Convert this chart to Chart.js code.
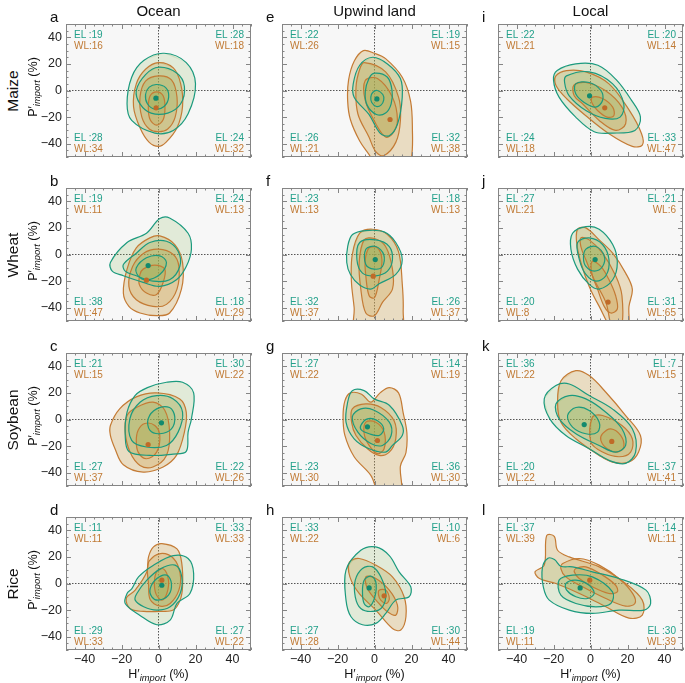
<!DOCTYPE html>
<html>
<head>
<meta charset="utf-8">
<script src="https://cdn.jsdelivr.net/npm/chart.js@4.4.1/dist/chart.umd.min.js"></script>
<style>
  body { margin: 0; background: #fff; width: 685px; height: 683px; position: relative; overflow: hidden;
         font-family: "Liberation Sans", Arial, Helvetica, sans-serif; }
  canvas { position: absolute; }
  .txt { position: absolute; white-space: nowrap; color: #111; }
  .corner { position: absolute; white-space: nowrap; font-size: 10px; line-height: 11px; }
  .el { color: #22a08a; }
  .wl { color: #c07a34; }
  sub { font-size: 0.75em; font-style: italic; vertical-align: -0.25em; }
</style>
</head>
<body>
<script>
// axis ticks (every 5, labels on multiples of 20)
const tickPositions = [-50, -45, -40, -35, -30, -25, -20, -15, -10, -5, 0, 5, 10, 15, 20, 25, 30, 35, 40, 45, 50];

const colTitles = ['Ocean', 'Upwind land', 'Local'];
const rowTitles = ['Maize', 'Wheat', 'Soybean', 'Rice'];
const panelLetters = ['a', 'b', 'c', 'd', 'e', 'f', 'g', 'h', 'i', 'j', 'k', 'l'];

// corner counts, panel order a..l, corners TL, TR, BL, BR
const cornerEL = [
  [19, 28, 28, 24], [19, 24, 38, 18], [21, 30, 27, 22], [11, 33, 29, 27],
  [22, 19, 26, 32], [23, 18, 32, 26], [27, 14, 23, 36], [33, 10, 27, 30],
  [22, 20, 24, 33], [27, 21, 20, 31], [36, 7, 20, 37], [37, 14, 19, 30]
];
const cornerWL = [
  [16, 18, 34, 32], [11, 13, 47, 29], [15, 22, 37, 26], [11, 33, 33, 22],
  [26, 15, 21, 38], [13, 13, 37, 37], [22, 19, 30, 30], [22, 6, 28, 44],
  [21, 14, 18, 47], [21, 6, 8, 65], [22, 15, 22, 41], [39, 11, 11, 39]
];

// density modes (H', P') per panel a..l
const elCenters = [[-1.4, -5.8], [-5.6, -8.3], [1.6, -2.5], [1.8, -1.3], [1.3, -6.3], [0.4, -3.8],
                   [-3.8, -5.5], [-2.9, -3.3], [-0.5, -4], [2.5, -3.8], [-3.4, -3.8], [-5.6, -3.3]];
const wlCenters = [[-1.3, -13], [-6.5, -19.3], [-5.6, -18.8], [1.8, 2.5], [8.4, -21.8], [-0.7, -16.3],
                   [1.6, -15.8], [5.2, -9.3], [7.7, -13], [9.5, -35.8], [11.5, -16.5], [-0.4, 2.5]];

// contour lines, outer / middle / inner, as (H', P') points
// a: maize, ocean
const aEL = [
  [[3, 28], [15, 21], [20, 5], [16, -17.5], [8, -30], [-2, -32], [-14.5, -22.5], [-17, -10], [-14.5, 10], [-8, 22.5]],
  [[0, 17.5], [10, 13], [14, 3], [12, -10], [5, -17], [-4, -17], [-10, -10], [-12, 0], [-7, 12]],
  [[-1, 4.5], [4, 2], [5.5, -5], [3, -12], [-2, -14], [-6, -10], [-7, -3], [-5, 2.5]]
];
const aWL = [
  [[0, 21], [8, 17], [12, 5], [13, -12], [10, -28], [4, -39], [0, -42], [-5, -39], [-10, -28], [-13.5, -12], [-12, 5], [-7, 16]],
  [[0, 11], [7, 8], [10, -5], [9, -20], [5, -29], [0, -31], [-5, -29], [-9, -20], [-10, -5], [-7, 7]],
  [[-1, -1], [2.5, -4], [3.5, -13], [2.5, -22], [-1, -26], [-4.5, -22], [-5.5, -13], [-4.5, -4]]
];
// b: wheat, ocean
const bEL = [
  [[-26, -6], [-17, 9], [-6.5, 16], [0.7, 27], [6, 27.5], [16, 16], [17.8, 4], [15, -9], [9.7, -19], [0.7, -24], [-8.3, -21], [-19, -16], [-25, -12.5]],
  [[-19, -7.5], [-12, 1], [-4.7, 9], [4.3, 10], [10.6, 2.5], [11.5, -9], [6, -19], [-3, -20], [-12, -16], [-18, -12.5]],
  [[-12, -10], [-6.5, -2.5], [0.7, -1], [4.3, -6], [0.7, -15], [-6.5, -19], [-11, -16]]
];
const bWL = [
  [[-4.7, 12.5], [0.7, 14], [8.8, 7.5], [13, -6], [12.4, -26], [6, -44], [-1, -46], [-10, -44], [-16, -39], [-19, -29], [-17, -11], [-12, 5]],
  [[-8, 1], [0, 4], [8, 0], [11, -9], [10, -26], [4.3, -37.5], [-3, -39], [-12, -34], [-16, -24], [-14, -9]],
  [[-8.3, -11], [-2, -8], [3.4, -11], [2.5, -21], [-1, -30], [-6.5, -29], [-10.4, -22.5], [-10, -15]]
];
// c: soybean, ocean
const cEL = [
  [[-12.7, 18], [-6, 24], [4.3, 28], [13, 28], [19, 20], [17.8, 0.5], [16, -9.5], [15, -24], [8, -26], [-4.7, -27], [-16, -24], [-18, -12], [-17, 5.5]],
  [[-10, 13], [-1, 18], [8, 15.5], [13, 5.5], [10.6, -9.5], [4.3, -19.5], [-6.5, -20.7], [-14.5, -15.7], [-15.5, 0.5]],
  [[-5.6, 0.5], [-1, 8], [6, 9], [8.8, 2], [7, -7], [0.7, -10.7], [-4.7, -8]]
];
const cWL = [
  [[-26, -4.5], [-21, 8], [-12, 17], [-1, 20], [11.5, 15.5], [15, 5.5], [14, -9.5], [9.7, -27], [2.5, -35.7], [-8.3, -39.5], [-19, -34], [-23.5, -22], [-26, -12]],
  [[-17, 3], [-12, 9], [-3, 13], [3.4, 7], [6, -9.5], [4.3, -27], [-3, -35.7], [-10, -34.5], [-15.4, -24.5], [-18, -9.5]],
  [[-11, -8], [-7.4, -3], [-2, -4.5], [0.7, -12], [-1, -24.5], [-6.5, -29.5], [-11, -24.5], [-12, -16]]
];
// d: rice, ocean
const dEL = [
  [[-14.4, -3.8], [-10.8, 5], [-2.7, 13.8], [8, 21], [16, 18.8], [19, 7.5], [17, -7.5], [10, -15], [6.3, -27.5], [-0.9, -31], [-10, -24], [-18, -15], [-17, -7.5]],
  [[-11.7, -7.5], [-6.3, 2.5], [1, 11], [9, 13.8], [12.6, 5], [11.7, -7.5], [6.3, -17.5], [-0.9, -20], [-8, -17.5], [-12.6, -12.5]],
  [[-4.5, -3.8], [-0.9, 3.8], [4.5, 6.3], [7, 0], [5.4, -8.8], [0, -12.5], [-3.6, -10]]
];
const dWL = [
  [[1.8, 30], [10, 26], [12.6, 15], [13, -2.5], [11.7, -12.5], [8, -20], [0.9, -21], [-8, -21], [-15.3, -19], [-17.4, -11], [-12.6, -5], [-6.3, 8.8], [-5.4, 20], [-2.7, 27.5]],
  [[-5, 17], [1, 22.5], [8, 19], [11.7, 7.5], [11, -5], [6.3, -15], [0.9, -17], [-4.5, -12], [-5.4, 0], [-6, 10]],
  [[-0.9, 9], [2.7, 11], [5.4, 2.5], [4.5, -7.5], [1.8, -12.5], [-1.3, -8], [-2.2, 1]]
];
// e: maize, upwind land
const eEL = [
  [[-1, 25], [7, 20], [14, 9], [15, -5], [12.5, -25], [8, -34], [3, -32], [-3, -18], [-11, -5], [-11.5, 5], [-8, 19]],
  [[0, 13], [7, 10], [9.5, 0], [9, -10], [6, -17], [1, -18], [-4, -11], [-5, -1], [-3, 9]],
  [[1.5, 0], [4.5, -3], [5, -7], [3.5, -11], [1, -12], [-1.5, -9], [-2, -5], [-1, -1.5]]
];
const eWL = [
  [[-6, 30], [0, 28], [6, 24], [15, 10], [19.5, -8], [20.5, -30], [20, -50], [17, -58], [2, -58], [-3, -48], [-8, -38], [-13, -22], [-14.5, -8], [-14, 8], [-11, 22]],
  [[-5.6, 21], [6, 14], [13, -5], [14, -22.5], [11.5, -39], [5, -49], [0.7, -46], [-3, -35], [-9, -17.5], [-10, 2.5], [-8, 16]],
  [[-5, 7.5], [1.6, 9], [9.7, -5], [12.4, -22.5], [9.7, -32.5], [6, -35], [0.7, -25], [-5, -7.5]]
];
// f: wheat, upwind land
const fEL = [
  [[-11.9, 15], [-4.7, 18], [5.2, 17], [11.5, 9], [15, -4], [11.5, -15], [2.5, -22], [-2, -26], [-8, -23], [-13, -15], [-15, -6], [-14.5, 6]],
  [[-8, 9], [0.7, 11], [8, 6], [9.7, -4], [7, -12.5], [0.7, -16], [-6.5, -14], [-9.5, -4]],
  [[-4.7, 4], [0.7, 6], [5, 0], [4.3, -9], [-0.2, -11], [-4.7, -7.5]]
];
const fWL = [
  [[-8, 16], [-1, 19], [7, 15], [13, 2], [15, -22], [15.5, -42], [14, -58], [-10, -58], [-11, -40], [-12.5, -20], [-12, 0]],
  [[-5.6, 11], [0, 12], [6, 6], [9.7, -11], [9.7, -26], [4.3, -36], [0, -46], [-4.7, -44], [-7.4, -26], [-8.3, -6]],
  [[-2.9, 5], [1.6, 5], [4, -4], [2.5, -19], [0, -32.5], [-2.9, -31], [-4.7, -16], [-5, -4]]
];
// g: soybean, upwind land
const gEL = [
  [[-14.5, 13], [-12, 21.7], [-5.6, 21.7], [-0.2, 15.5], [8, 10.7], [15, -4.5], [15, -12], [9.7, -19.5], [6, -24.5], [-2.9, -22], [-11, -14.5], [-15.4, -2]],
  [[-12, 2], [-7.4, 8], [-0.2, 7], [8, -2], [9, -12], [4.3, -19.5], [-2, -18], [-9, -9.5]],
  [[-7.4, -4.5], [-3.8, 0.5], [1.6, -1], [5, -7], [2.5, -12], [-2.9, -10.7], [-7, -8]]
];
const gWL = [
  [[-16, 14], [-13, 20], [-7, 19], [-2, 13], [3, 20], [8, 24], [13, 20], [15.5, 5], [17.5, -10], [17, -25], [14, -35], [14, -56], [3, -56], [-2, -42], [-11, -28], [-16, -12], [-17, 2]],
  [[-12, 8], [-4.7, 11.7], [3.4, 9], [10.6, -1], [11.5, -14.5], [8, -24.5], [2.5, -27], [-3.8, -22], [-10, -12], [-12.4, -2]],
  [[-4.7, -2], [0.7, -2], [5.2, -9.5], [5.2, -22], [1.6, -25.7], [-2.9, -19.5], [-5.6, -10.7]]
];
// h: rice, upwind land
const hEL = [
  [[-15.4, 10], [-7.4, 25], [0.7, 27.5], [8, 21], [13.3, 8.8], [19.6, -2.5], [18.7, -10], [11.5, -12.5], [6.1, -22.5], [0.7, -30], [-6.5, -31], [-12.7, -25], [-15.4, -12.5]],
  [[-10.4, 2.5], [-6.5, 11.3], [-1, 12.5], [3.4, 5], [6.1, -7.5], [4.3, -17.5], [-1, -21], [-7.4, -18.8], [-10.4, -10]],
  [[-5.6, 2.5], [-2, 5.5], [0.7, 1.3], [0.2, -10], [-2.9, -17.5], [-5.6, -15], [-6.5, -6.3]]
];
const hWL = [
  [[-13.6, 16], [-8.3, 18.8], [0.7, 13.8], [9.7, 5], [16, -10], [17, -25], [14.2, -35], [9.7, -33.8], [0.7, -20], [-8.3, -7.5], [-13.3, 5]],
  [[-4.7, 5], [0.7, 3.8], [8, -5], [12.4, -16.3], [11.5, -23.8], [7, -21.3], [1.6, -13.8], [-3.8, -3.8]],
  [[2.5, -5], [6.1, -5], [8, -11.3], [6.5, -15], [3.4, -12.5], [2.2, -8.8]]
];
// i: maize, local
const iEL = [
  [[-18, 15], [-8, 20], [4, 19], [14, 8], [22, -7], [27, -20], [24, -30], [12, -32], [2, -31], [-8, -20], [-17, -5], [-20, 8]],
  [[-13, 11], [-0.7, 14], [12, 5], [18, -10], [16, -20], [8, -21], [-2.5, -15], [-11.5, -4], [-14, 6]],
  [[-8, 5], [-0.7, 6], [5.6, 0], [6.5, -7.5], [2.9, -12.5], [-3.4, -9], [-8, -2.5]]
];
const iWL = [
  [[-18.7, 11], [-13, 15], [-2.5, 14], [10, 5], [21, -15], [27.6, -32.5], [28, -41], [22.6, -42], [10, -32.5], [-2.5, -19], [-13, -6], [-18.7, 4]],
  [[-9, 4], [-2.5, 6], [8, 0], [17, -12.5], [19, -25], [13.6, -30], [4.7, -22.5], [-4.3, -10], [-8.8, -4]],
  [[1, -5], [6.5, -6], [12, -12.5], [12.6, -19], [9, -20], [3.8, -15], [0.7, -9]]
];
// j: wheat, local
const jEL = [
  [[-9.7, 16], [-2.5, 21], [4.7, 19], [12, 7.5], [14.5, -6], [12, -19], [4.7, -26], [-0.7, -22.5], [-7, -11], [-10.6, 4]],
  [[-7, 9], [-0.7, 12.5], [6.5, 7.5], [10, -4], [8.3, -16], [2.9, -20], [-2.5, -15], [-6, -4]],
  [[-2.5, 4], [2.9, 6], [7.4, -1], [6.5, -9], [2, -12.5], [-2.5, -9], [-3.8, -2.5]]
];
const jWL = [
  [[-7, 19], [-2.5, 20], [4.7, 11], [12, 1], [19, -14], [22.6, -26], [20.8, -39], [20, -56], [12, -56], [4.7, -39], [-0.7, -24], [-5.2, -6], [-7.5, 9]],
  [[-5.2, 12.5], [-0.7, 11], [6.5, 1], [13.6, -16], [17, -31], [16.5, -56], [12, -56], [8.3, -36], [2, -19], [-2.5, -4], [-5.2, 6]],
  [[1, -5], [5.6, -9], [10, -19], [13.6, -31], [14.5, -41], [11, -44], [7.4, -39], [3.8, -26], [0.7, -14]]
];
// k: soybean, local
const kEL = [
  [[-25, 15.5], [-18.7, 25.5], [-11.5, 26.7], [-0.7, 18], [11.8, 8], [22.6, -7], [24.4, -24.5], [19, -33], [10, -30.7], [-0.7, -22], [-13.3, -12], [-22, 0.5]],
  [[-18.7, 11.7], [-11.5, 18], [-2.5, 15.5], [8.3, 5.5], [17, -7], [19, -19.5], [13.6, -24.5], [4.7, -19.5], [-7.9, -10.7], [-16.9, 0.5]],
  [[-12.4, 3], [-7.9, 9], [-0.7, 6.7], [4.7, -2], [3.8, -9.5], [-2.5, -10.7], [-9.7, -5.7]]
];
const kWL = [
  [[-16, 29], [-7.9, 36.7], [-0.7, 33], [8.3, 20.5], [19, 3], [27, -12], [26, -24.5], [20.8, -32], [11.8, -32], [4.7, -27], [-7.9, -14.5], [-16, -2], [-17.8, 13]],
  [[1, 1.7], [6.5, 3], [17, -4.5], [22.6, -14.5], [21.7, -24.5], [15.4, -28], [6.5, -24.5], [0.2, -17]],
  [[6.5, -10.7], [11, -7], [16.3, -12], [18, -20.7], [14.5, -24.5], [9, -22], [5.6, -15.7]]
];
// l: rice, local
const lEL = [
  [[-26, 12], [-23, 19], [-19.5, 18], [-16, 13], [-9.7, 12.5], [1, 8.8], [15.4, 3.8], [30, -5], [32.5, -15], [29, -20], [15.4, -20], [1, -22.5], [-11.5, -20], [-22.3, -12.5], [-25.5, -2.5]],
  [[-17, 2.5], [-9.7, 6.3], [1, 5], [11.9, -6.3], [11, -15], [2.9, -17.5], [-7.9, -15], [-16, -8.8]],
  [[-13.3, 0], [-7.9, 2.5], [-0.7, -1.3], [2, -7.5], [-1.6, -11.3], [-7.9, -10], [-12.9, -5]]
];
const lWL = [
  [[-30, 8.8], [-25, 13.8], [-23.7, 36], [-19.6, 35.5], [-17.8, 25], [-11.5, 20], [4.7, 12.5], [19, 0], [28, -12.5], [28, -23.8], [20.8, -26], [8.3, -17.5], [-6, -7.5], [-18.7, 0], [-27.6, 3.8]],
  [[-15, 15], [-6, 18.8], [4.7, 13.8], [16, 3], [23, -8], [24, -15], [19, -17], [8.3, -11.3], [-4.3, -2.5], [-13.3, 5], [-16, 11]],
  [[-7.9, 11.3], [-2.5, 12.5], [6.5, 6.3], [13.6, -1.3], [14.5, -6.3], [10, -7.5], [1, -2.5], [-6.1, 3.8], [-8.8, 8.8]]
];

const elSets = [aEL, bEL, cEL, dEL, eEL, fEL, gEL, hEL, iEL, jEL, kEL, lEL];
const wlSets = [aWL, bWL, cWL, dWL, eWL, fWL, gWL, hWL, iWL, jWL, kWL, lWL];

const EL_LINE = '#1b9a7e';
const WL_LINE = '#c47b35';
const EL_FILL = 'rgba(130,175,75,0.18)';
const WL_FILL = 'rgba(205,165,85,0.32)';

const panelTops = [24, 188, 353, 517];
const PW = 185, PH = 133;

function panelLeft(col) { return 66 + 216 * col; }

function fmt(v) {
  return v < 0 ? '\u2212' + Math.abs(v) : String(v);
}

// closed smooth contour: wrap the ends so the spline joins without a corner
function contour(pts, line, fill) {
  const d = pts.map(p => ({ x: p[0], y: p[1] }));
  const data = [d[d.length - 1], ...d, d[0], d[1]];
  const last = data.length - 1;
  return {
    type: 'line',
    data: data,
    borderColor: line,
    backgroundColor: fill,
    fill: 'shape',
    borderWidth: 1.2,
    pointRadius: 0,
    tension: 0.35,
    segment: {
      borderColor: c => (c.p0DataIndex === 0 || c.p1DataIndex === last) ? 'rgba(0,0,0,0)' : line
    }
  };
}

function dot(p, color) {
  return {
    type: 'scatter',
    data: [{ x: p[0], y: p[1] }],
    pointRadius: 2.6,
    pointBorderWidth: 0,
    pointBackgroundColor: color
  };
}

// background + inward ticks + frame
const frameTicks = {
  id: 'frameTicks',
  beforeDraw(chart) {
    const { ctx, chartArea: a } = chart;
    ctx.save();
    ctx.fillStyle = '#f7f7f7';
    ctx.fillRect(a.left, a.top, a.right - a.left, a.bottom - a.top);
    ctx.restore();
  },
  afterDraw(chart) {
    const { ctx, chartArea: a, scales: { x, y } } = chart;
    ctx.save();
    ctx.strokeStyle = '#858585';
    ctx.lineWidth = 1;
    ctx.beginPath();
    x.ticks.forEach(t => {
      const px = Math.round(x.getPixelForValue(t.value)) + 0.5;
      const len = t.value % 20 === 0 ? 5 : 2.5;
      ctx.moveTo(px, a.bottom); ctx.lineTo(px, a.bottom - len);
      ctx.moveTo(px, a.top); ctx.lineTo(px, a.top + len);
    });
    y.ticks.forEach(t => {
      const py = Math.round(y.getPixelForValue(t.value)) + 0.5;
      const len = t.value % 20 === 0 ? 5 : 2.5;
      ctx.moveTo(a.left, py); ctx.lineTo(a.left + len, py);
      ctx.moveTo(a.right, py); ctx.lineTo(a.right - len, py);
    });
    ctx.stroke();
    ctx.strokeRect(a.left + 0.5, a.top + 0.5, a.right - a.left - 1, a.bottom - a.top - 1);
    ctx.restore();
  }
};

function addText(html, x, y, cls, style) {
  const el = document.createElement('div');
  el.className = cls;
  el.innerHTML = html;
  el.style.left = x + 'px';
  el.style.top = y + 'px';
  if (style) Object.assign(el.style, style);
  document.body.appendChild(el);
  return el;
}

function noPad(s) {
  s.paddingTop = 0; s.paddingBottom = 0; s.paddingLeft = 0; s.paddingRight = 0;
}

function makePanel(p) {
  const col = Math.floor(p / 4), row = p % 4;
  const left = panelLeft(col), top = panelTops[row];
  const L = col === 0 ? 40 : 2, B = row === 3 ? 22 : 2, T = 2, R = 2;

  const canvas = document.createElement('canvas');
  canvas.width = PW + L + R;
  canvas.height = PH + T + B;
  canvas.style.left = (left - L) + 'px';
  canvas.style.top = (top - T) + 'px';
  document.body.appendChild(canvas);

  const datasets = [dot(elCenters[p], '#128a6e'), dot(wlCenters[p], '#c06a28')];
  elSets[p].forEach(c => datasets.push(contour(c, EL_LINE, EL_FILL)));
  wlSets[p].forEach(c => datasets.push(contour(c, WL_LINE, WL_FILL)));

  const axisCommon = {
    type: 'linear', min: -50, max: 50, z: 1,
    afterBuildTicks: s => { s.ticks = tickPositions.map(v => ({ value: v })); },
    grid: {
      drawTicks: false,
      lineWidth: 1,
      color: c => (c.tick && c.tick.value === 0) ? '#555' : 'rgba(0,0,0,0)'
    },
    border: { display: false, dash: [1.5, 1.5] }
  };

  new Chart(canvas, {
    type: 'line',
    data: { datasets: datasets },
    options: {
      responsive: false,
      animation: false,
      events: [],
      layout: { autoPadding: false, padding: { top: T, right: R, left: 0, bottom: 0 } },
      plugins: { legend: { display: false }, tooltip: { enabled: false }, filler: { drawTime: 'beforeDatasetsDraw' } },
      scales: {
        x: Object.assign({}, axisCommon, {
          afterFit: s => { s.height = B; noPad(s); },
          ticks: {
            autoSkip: false, maxRotation: 0, padding: 2, color: '#222',
            font: { family: '"Liberation Sans", Arial, sans-serif', size: 12.5 },
            callback: v => (row === 3 && v % 20 === 0 && Math.abs(v) <= 40) ? fmt(v) : ''
          }
        }),
        y: Object.assign({}, axisCommon, {
          afterFit: s => { s.width = L; noPad(s); },
          ticks: {
            autoSkip: false, padding: 4, color: '#222',
            font: { family: '"Liberation Sans", Arial, sans-serif', size: 12.5 },
            callback: v => (col === 0 && v % 20 === 0 && Math.abs(v) <= 40) ? fmt(v) : ''
          }
        })
      }
    },
    plugins: [frameTicks]
  });

  // corner counts
  const e = cornerEL[p], w = cornerWL[p];
  const corner = (i) => '<span class="el">EL :' + e[i] + '</span><br><span class="wl">WL:' + w[i] + '</span>';
  addText(corner(0), left + 8, top + 5, 'corner');
  addText(corner(1), left + PW - 7, top + 5, 'corner', { transform: 'translateX(-100%)', textAlign: 'right' });
  addText(corner(2), left + 8, top + PH - 25, 'corner');
  addText(corner(3), left + PW - 7, top + PH - 25, 'corner', { transform: 'translateX(-100%)', textAlign: 'right' });

  // panel letter
  addText(panelLetters[p], left - 16, top - 8, 'txt', { fontSize: '15px', transform: 'translate(0,-50%)' });
}

for (let p = 0; p < 12; p++) makePanel(p);

colTitles.forEach((t, c) => {
  addText(t, panelLeft(c) + PW / 2, 10, 'txt', { fontSize: '15px', transform: 'translate(-50%,-50%)' });
  addText('H\u2032<sub>import</sub> (%)', panelLeft(c) + PW / 2, 675, 'txt',
    { fontSize: '12.5px', transform: 'translate(-50%,-50%)' });
});

rowTitles.forEach((t, r) => {
  const cy = panelTops[r] + PH / 2;
  addText(t, 13, cy, 'txt', { fontSize: '15.5px', transform: 'translate(-50%,-50%) rotate(-90deg)' });
  addText('P\u2032<sub>import</sub> (%)', 34, cy - 4, 'txt',
    { fontSize: '12.5px', transform: 'translate(-50%,-50%) rotate(-90deg)' });
});
</script>
</body>
</html>
